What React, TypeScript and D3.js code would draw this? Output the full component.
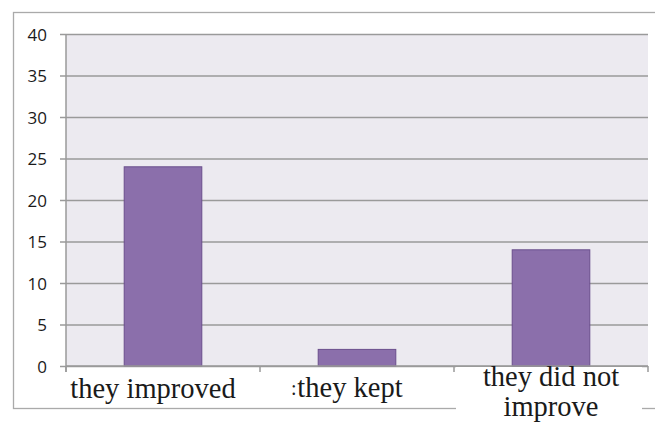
import React, { useEffect, useRef } from "react";
import * as d3 from "d3";

const categories = ["they improved", "they kept", "they did not improve"];
const values = [24, 2, 14];
const yTicks = [0, 5, 10, 15, 20, 25, 30, 35, 40];
const labelLines = [["they improved"], ["they kept"], ["they did not", "improve"]];

const App = () => {
    const ref = useRef<SVGSVGElement>(null);

    useEffect(() => {
        const svg = d3.select(ref.current);
        svg.selectAll("*").remove();

        const height = 423;
        const plot = { left: 66, right: 648, top: 34, bottom: 366 };
        const serif = "'Liberation Serif', 'Times New Roman', serif";

        // outer chart border
        svg.append("rect")
            .attr("x", 13.5)
            .attr("y", 12.5)
            .attr("width", 660)
            .attr("height", 396)
            .attr("fill", "#fff")
            .attr("stroke", "#aaaaaa")
            .attr("stroke-width", 1.3);

        const xScale = d3.scaleBand()
            .domain(categories)
            .range([plot.left, plot.right])
            .paddingInner(0.6)
            .paddingOuter(0.3);

        const yScale = d3.scaleLinear()
            .domain([0, 40])
            .range([plot.bottom, plot.top]);

        // plot background
        svg.append("rect")
            .attr("x", plot.left)
            .attr("y", plot.top)
            .attr("width", plot.right - plot.left)
            .attr("height", plot.bottom - plot.top)
            .attr("fill", "#ECEAF0");

        // gridlines + y tick labels
        const yAxis = d3.axisLeft(yScale)
            .tickValues(yTicks)
            .tickSize(0)
            .tickFormat(d3.format("d"));

        const yg = svg.append("g")
            .attr("transform", `translate(${plot.right}, 0)`)
            .call(yAxis);
        yg.select(".domain").remove();
        yg.selectAll(".tick line")
            .attr("x1", 0)
            .attr("x2", -(plot.right - plot.left + 6))
            .attr("stroke", "#9a9a9a")
            .attr("stroke-width", 1.5);
        yg.selectAll(".tick text")
            .attr("x", 47 - plot.right)
            .attr("dy", "0.36em")
            .style("font-family", "'Open Sans', 'DejaVu Sans', sans-serif")
            .style("font-size", "17px")
            .attr("fill", "#1a1a1a");

        // y axis line
        svg.append("line")
            .attr("x1", plot.left).attr("x2", plot.left)
            .attr("y1", plot.top).attr("y2", plot.bottom + 6)
            .attr("stroke", "#9a9a9a")
            .attr("stroke-width", 1.5);

        // bars
        svg.selectAll(".bar")
            .data(values)
            .enter()
            .append("rect")
            .attr("class", "bar")
            .attr("x", (d, i) => xScale(categories[i]) as number)
            .attr("y", d => yScale(d))
            .attr("width", xScale.bandwidth())
            .attr("height", d => plot.bottom - yScale(d))
            .attr("fill", "#8B6FAB")
            .attr("stroke", "#6A4E8C")
            .attr("stroke-width", 1);

        // x axis baseline and ticks at category boundaries
        const step = xScale.step();
        svg.append("line")
            .attr("x1", plot.left).attr("x2", plot.right)
            .attr("y1", plot.bottom).attr("y2", plot.bottom)
            .attr("stroke", "#9a9a9a")
            .attr("stroke-width", 1.5);
        d3.range(categories.length + 1).forEach(i => {
            svg.append("line")
                .attr("x1", plot.left + i * step).attr("x2", plot.left + i * step)
                .attr("y1", plot.bottom).attr("y2", plot.bottom + 6)
                .attr("stroke", "#9a9a9a")
                .attr("stroke-width", 1.5);
        });

        // white box behind last label
        svg.append("rect")
            .attr("x", plot.left + 2 * step + 2)
            .attr("y", plot.bottom + 1)
            .attr("width", step - 8)
            .attr("height", height - plot.bottom)
            .attr("fill", "#fff");

        // category labels
        const labelX = [153, 350, 551];
        const labelY = [[398], [397], [386, 416]];
        labelLines.forEach((lines, i) => {
            lines.forEach((line, j) => {
                svg.append("text")
                    .attr("x", labelX[i])
                    .attr("y", labelY[i][j])
                    .attr("text-anchor", "middle")
                    .style("font-family", serif)
                    .style("font-size", "28.5px")
                    .attr("fill", "#1a1a1a")
                    .text(line);
            });
        });

        // clipped glyph left of the second label
        svg.append("text")
            .attr("x", 291)
            .attr("y", 395)
            .style("font-family", serif)
            .style("font-size", "20px")
            .attr("fill", "#1a1a1a")
            .text(":");
    }, []);

    return (
        <svg
            ref={ref}
            width={655}
            height={423}
            style={{ position: "absolute", left: 0, top: 0, background: "#fff" }}
        />
    );
};

export default App;
